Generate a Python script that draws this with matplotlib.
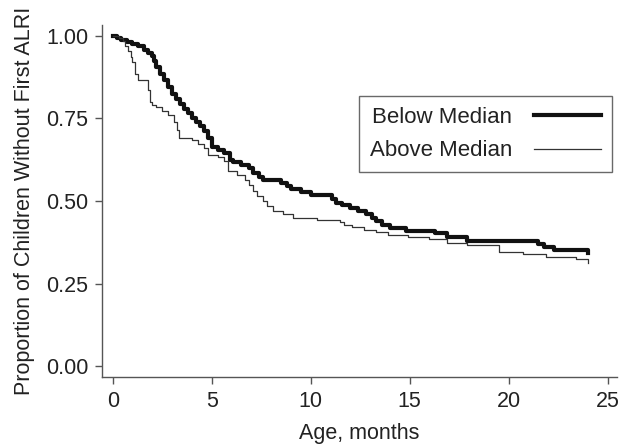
import matplotlib
matplotlib.use("Agg")
import matplotlib.pyplot as plt

plt.rcParams['font.family'] = ['Liberation Sans', 'DejaVu Sans']

# Kaplan-Meier style step data (time in months, survival proportion)
below_t = [0, 0.2, 0.4, 0.7, 1.0, 1.3, 1.6, 1.8, 2.0, 2.1, 2.2, 2.4, 2.6, 2.8, 3.0,
           3.2, 3.4, 3.6, 3.8, 4.0, 4.2, 4.4, 4.6, 4.8, 5.0, 5.3, 5.6, 5.9, 6.1,
           6.5, 6.9, 7.1, 7.4, 7.6, 8.5, 8.8, 9.0, 9.5, 10.0, 11.1, 11.3, 11.6,
           12.0, 12.4, 12.8, 13.1, 13.3, 13.6, 14.0, 14.8, 16.3, 16.9, 17.9,
           21.5, 21.8, 22.3, 24.0]
below_s = [1.0, 0.994, 0.988, 0.982, 0.976, 0.970, 0.958, 0.948, 0.940, 0.925,
           0.905, 0.885, 0.865, 0.845, 0.825, 0.810, 0.795, 0.780, 0.766, 0.750,
           0.740, 0.728, 0.712, 0.690, 0.665, 0.655, 0.645, 0.625, 0.618, 0.610,
           0.600, 0.585, 0.572, 0.565, 0.555, 0.545, 0.535, 0.527, 0.518, 0.505,
           0.494, 0.487, 0.479, 0.470, 0.462, 0.450, 0.438, 0.427, 0.418, 0.410,
           0.403, 0.392, 0.378, 0.370, 0.362, 0.352, 0.342]

above_t = [0, 0.3, 0.5, 0.6, 0.75, 0.9, 1.0, 1.15, 1.3, 1.8, 1.9, 2.0, 2.2, 2.5,
           2.8, 3.1, 3.25, 3.35, 4.0, 4.3, 4.6, 4.8, 5.3, 5.6, 5.8, 6.3, 6.7,
           6.9, 7.1, 7.3, 7.6, 7.8, 8.1, 8.6, 9.1, 10.3, 11.5, 11.7, 12.1, 12.7,
           13.3, 13.9, 14.9, 16.0, 16.9, 17.9, 19.5, 20.7, 21.9, 23.4, 24.0]
above_s = [1.0, 0.994, 0.985, 0.970, 0.955, 0.935, 0.921, 0.885, 0.867, 0.835,
           0.800, 0.792, 0.785, 0.772, 0.760, 0.740, 0.715, 0.692, 0.685, 0.672,
           0.660, 0.640, 0.633, 0.620, 0.590, 0.579, 0.564, 0.548, 0.530, 0.515,
           0.500, 0.485, 0.470, 0.460, 0.450, 0.442, 0.436, 0.427, 0.420, 0.412,
           0.405, 0.397, 0.391, 0.385, 0.373, 0.367, 0.345, 0.339, 0.330, 0.324,
           0.312]

x_ticks = [0, 5, 10, 15, 20, 25]
y_ticks = [0.0, 0.25, 0.5, 0.75, 1.0]
y_ticklabels = ["0.00", "0.25", "0.50", "0.75", "1.00"]
labels = ["Below Median", "Above Median"]

fs = 15.5
fig = plt.figure(figsize=(6.19, 4.44), dpi=100)
ax = fig.add_axes([102/619, 1-377/444, (617-102)/619, (377-25)/444])

ax.step(below_t, below_s, where='post', color='#111111', lw=3.0, label=labels[0])
ax.step(above_t, above_s, where='post', color='#333333', lw=0.9, label=labels[1])

ax.set_xlim(-0.54, 25.47)
ax.set_ylim(-0.033, 1.033)
ax.set_xticks(x_ticks)
ax.set_yticks(y_ticks)
ax.set_yticklabels(y_ticklabels)

for s in ['top', 'right']:
    ax.spines[s].set_visible(False)
for s in ['left', 'bottom']:
    ax.spines[s].set_color('#555555')
    ax.spines[s].set_linewidth(1.0)
ax.tick_params(axis='both', direction='out', length=5, width=1, color='#555555',
               labelsize=fs, labelcolor='#222222', pad=5)

ax.set_xlabel("Age, months", fontsize=fs, color='#222222', labelpad=8)
ax.set_ylabel("Proportion of Children Without First ALRI", fontsize=fs,
              color='#222222', labelpad=8)

leg = ax.legend(loc='upper right', bbox_to_anchor=(612/619, 1-96/444),
                bbox_transform=fig.transFigure, borderaxespad=0,
                markerfirst=False, handlelength=3.0, fontsize=16,
                frameon=True, fancybox=False, labelspacing=0.55,
                borderpad=0.5, handletextpad=1.0)
leg.get_frame().set_edgecolor('#444444')
leg.get_frame().set_linewidth(1.0)
for t in leg.get_texts():
    t.set_color('#222222')

fig.savefig("out.png", dpi=100)
